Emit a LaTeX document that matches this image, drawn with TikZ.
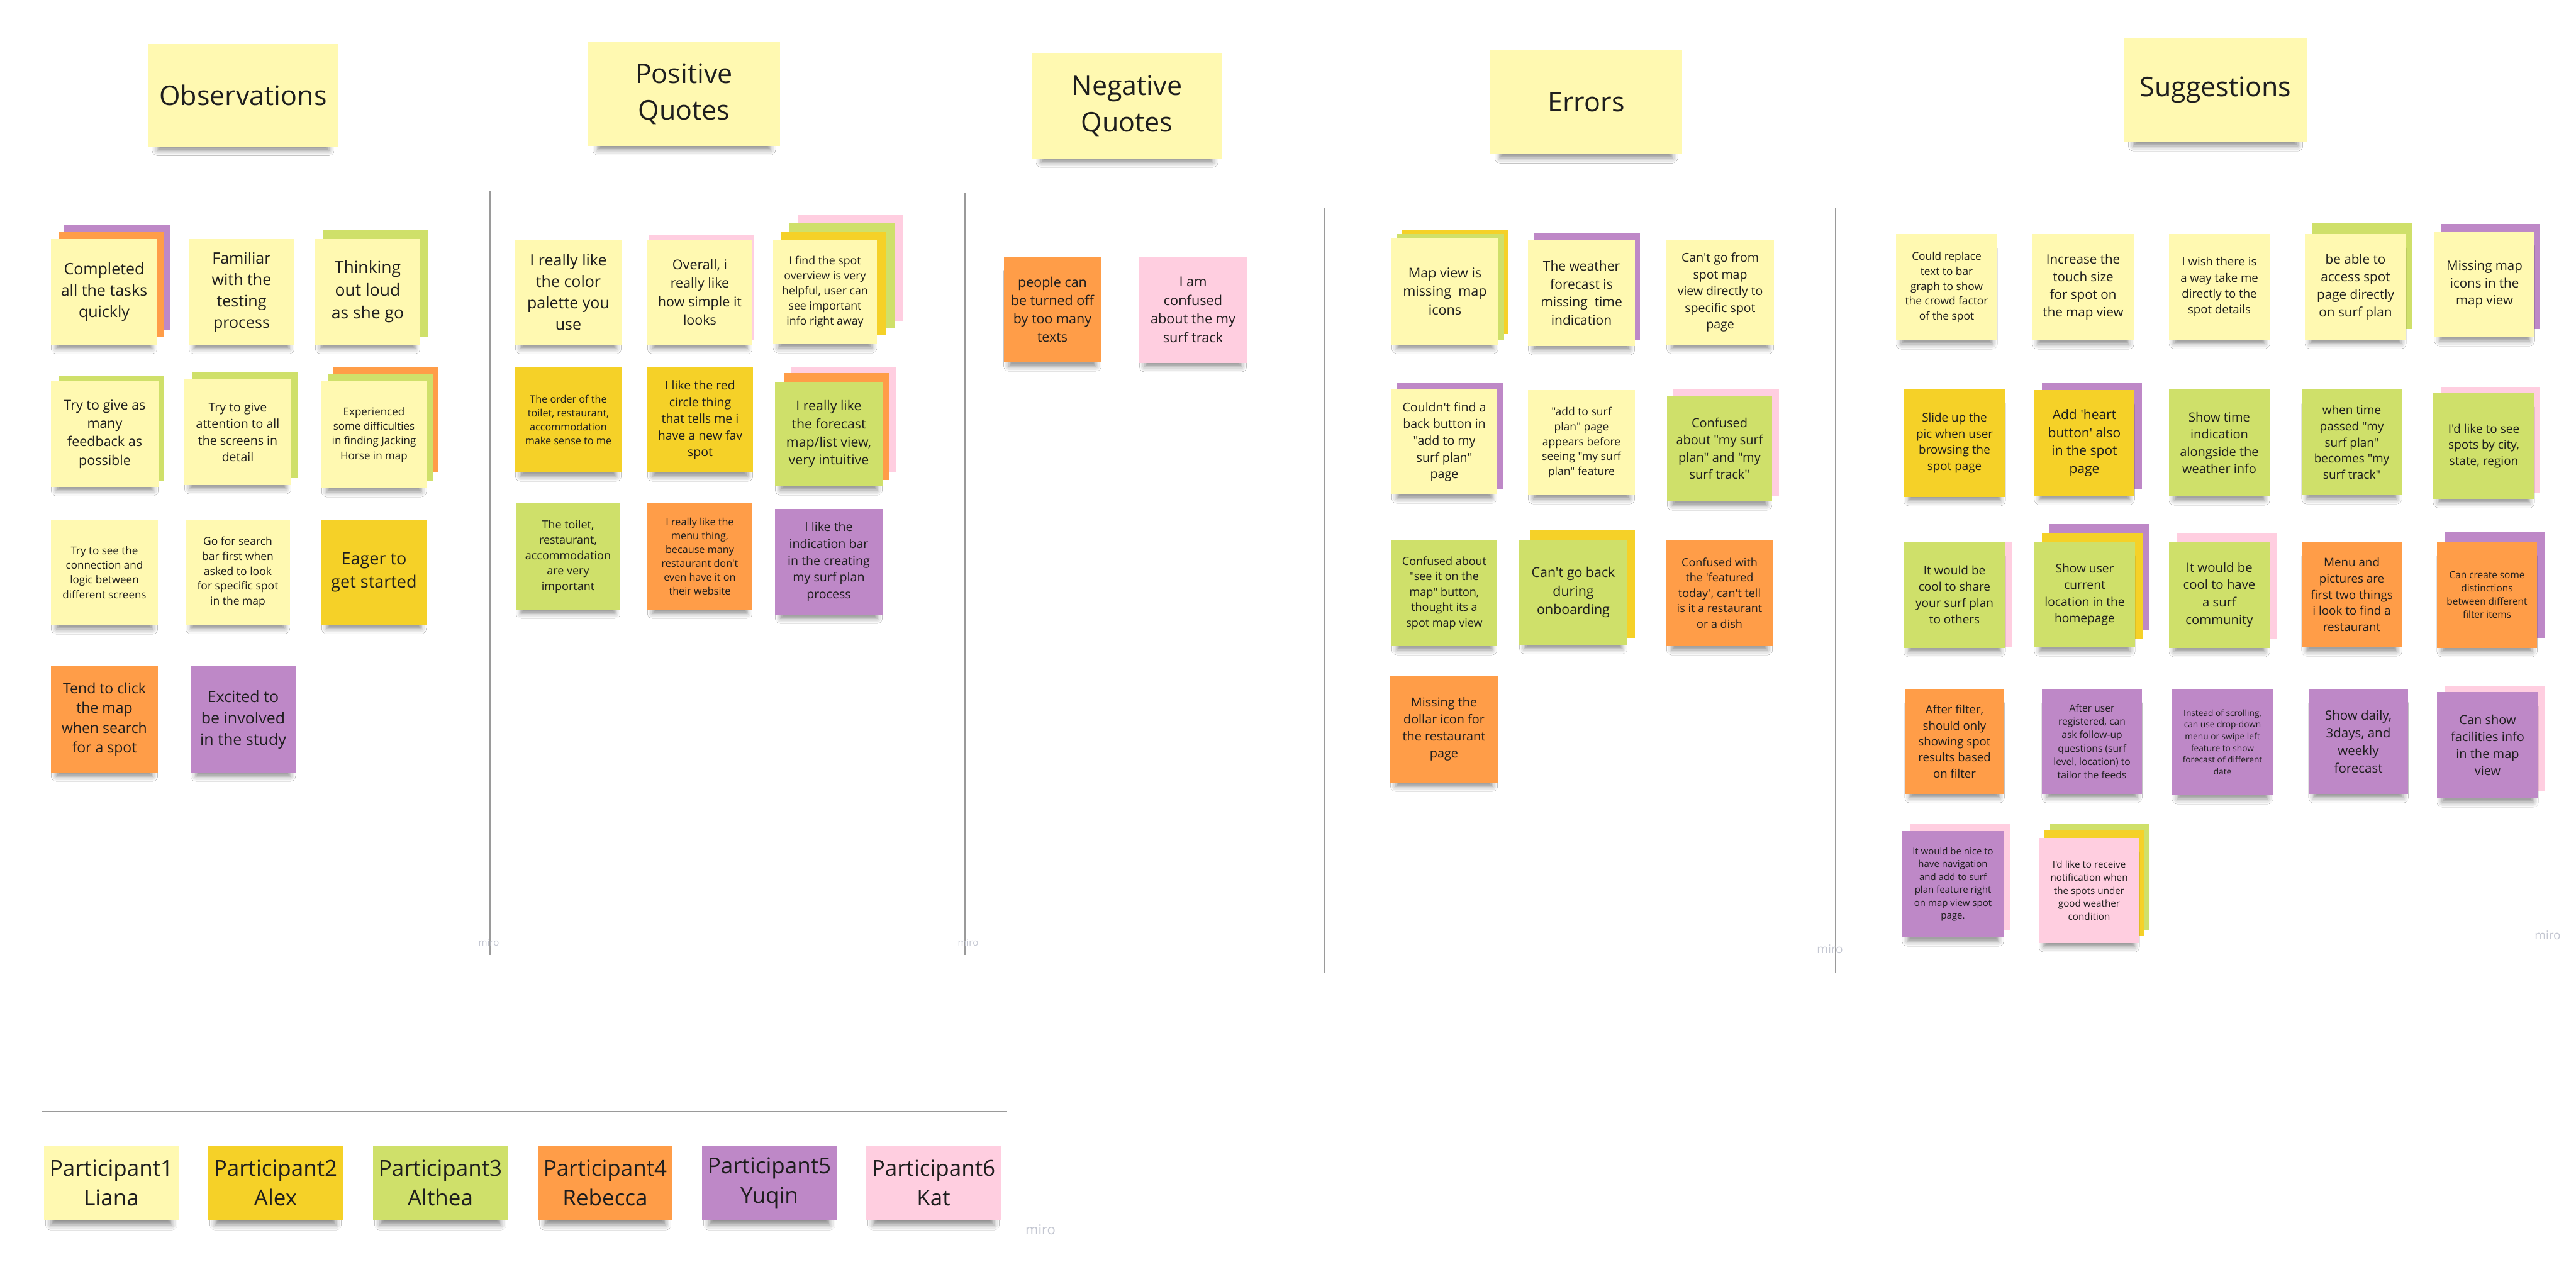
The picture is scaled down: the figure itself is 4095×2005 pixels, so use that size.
\documentclass[tikz,border=0pt]{standalone}
\usepackage{fontspec}
\setmainfont{Open Sans}[Ligatures=TeXOff]
\usetikzlibrary{shadows.blur}
\definecolor{ly}{HTML}{FFF9B1}
\definecolor{yl}{HTML}{F5D128}
\definecolor{gr}{HTML}{CFE06A}
\definecolor{og}{HTML}{FF9D48}
\definecolor{vi}{HTML}{BE88C7}
\definecolor{pk}{HTML}{FFCEE0}
\definecolor{ink}{HTML}{1E1E1E}
\definecolor{sepc}{HTML}{9A9A9A}
\definecolor{mirocol}{HTML}{C3C6D1}
\newcommand\nfs[1]{\pgfmathsetlengthmacro\nfsl{1.36*#1}\fontsize{#1}{\nfsl}\selectfont}
% name, x1, y1, x2, y2, colour, font size, text
\newcommand\snote[8]{\node[note, fill=#6, font=\nfs{#7}, minimum width={#4-#2}, minimum height={#5-#3}] (#1) at ({(#2+#4)/2},{(#3+#5)/2}) {#8};}
% x1, y1, x2, y2, colour
\newcommand\sback[5]{\fill[#5] (#1,#2) rectangle (#3,#4);}
\tikzset{
  note/.style={draw=none, inner sep=2pt, align=center, text=ink,
    blur shadow={shadow xshift=0pt, shadow yshift=-16pt, shadow scale=0.9, shadow blur radius=9pt, shadow opacity=45}},
  legend/.style={note, font=\fontsize{35}{47}\selectfont, minimum width=214, minimum height=117},
  sepline/.style={draw=sepc, line width=2.5pt},
  mirotag/.style={text=mirocol, inner sep=0pt}
}
\begin{document}
\begin{tikzpicture}[x=1pt, y=-1pt]
\useasboundingbox[fill=white] (0,0) rectangle (4095,2005);

% separators
\draw[sepline] (779,303) -- (779,1518);
\draw[sepline] (1534,306) -- (1534,1518);
\draw[sepline] (2106,330) -- (2106,1547);
\draw[sepline] (2918,330) -- (2918,1547);
\draw[sepline] (67,1767) -- (1601,1767);

% headers
\snote{h1}{235}{70}{538}{233}{ly}{43}{Observations}
\snote{h2}{935}{67}{1240}{232}{ly}{43}{Positive\\Quotes}
\snote{h3}{1640}{85}{1943}{252}{ly}{43}{Negative\\Quotes}
\snote{h4}{2369}{80}{2674}{245}{ly}{43}{Errors}
\snote{h5}{3377}{60}{3667}{226}{ly}{43}{Suggestions}

% Observations
\sback{102}{358}{270}{525}{vi}\sback{94}{368}{261}{535}{og}
\snote{o1}{81}{380}{250}{548}{ly}{25}{Completed\\all the tasks\\quickly}
\snote{o2}{300}{380}{468}{548}{ly}{25}{Familiar\\with the\\testing\\process}
\sback{514}{366}{680}{535}{gr}
\snote{o3}{501}{380}{668}{548}{ly}{26.5}{Thinking\\out loud\\as she go}
\sback{93}{597}{261}{764}{gr}
\snote{o4}{81}{606}{252}{774}{ly}{21.5}{Try to give as\\many\\feedback as\\possible}
\sback{306}{591}{473}{760}{gr}
\snote{o5}{293}{603}{463}{771}{ly}{19.5}{Try to give\\attention to all\\the screens in\\detail}
\sback{529}{584}{697}{751}{og}\sback{522}{595}{688}{764}{gr}
\snote{o6}{511}{606}{678}{776}{ly}{17}{Experienced\\some difficulties\\in finding Jacking\\Horse in map}
\snote{o7}{81}{826}{251}{994}{ly}{17}{Try to see the\\connection and\\logic between\\different screens}
\snote{o8}{295}{826}{461}{993}{ly}{17.5}{Go for search\\bar first when\\asked to look\\for specific spot\\in the map}
\snote{o9}{511}{826}{678}{993}{yl}{27}{Eager to\\get started}
\snote{o10}{81}{1059}{251}{1228}{og}{23}{Tend to click\\the map\\when search\\for a spot}
\snote{o11}{303}{1059}{470}{1228}{vi}{25}{Excited to\\be involved\\in the study}

% Positive quotes
\snote{p1}{819}{381}{988}{548}{ly}{25}{I really like\\the color\\palette you\\use}
\sback{1031}{374}{1198}{541}{pk}
\snote{p2}{1029}{381}{1196}{548}{ly}{21.5}{Overall, i\\really like\\how simple it\\looks}
\sback{1269}{341}{1435}{510}{pk}\sback{1254}{354}{1423}{522}{gr}\sback{1242}{368}{1409}{533}{yl}
\snote{p3}{1229}{381}{1394}{547}{ly}{17.7}{I find the spot\\overview is very\\helpful, user can\\see important\\info right away}
\snote{p4}{819}{584}{988}{751}{yl}{16.2}{The order of the\\toilet, restaurant,\\accommodation\\make sense to me}
\snote{p5}{1029}{584}{1197}{751}{yl}{19.5}{I like the red\\circle thing\\that tells me i\\have a new fav\\spot}
\sback{1257}{584}{1425}{751}{pk}\sback{1246}{593}{1413}{763}{og}
\snote{p6}{1232}{607}{1403}{773}{gr}{21.3}{I really like\\the forecast\\map/list view,\\very intuitive}
\snote{p7}{820}{800}{986}{969}{gr}{18}{The toilet,\\restaurant,\\accommodation\\are very\\important}
\snote{p8}{1029}{800}{1196}{969}{og}{16.2}{I really like the\\menu thing,\\because many\\restaurant don't\\even have it on\\their website}
\snote{p9}{1232}{809}{1403}{977}{vi}{19.6}{I like the\\indication bar\\in the creating\\my surf plan\\process}

% Negative quotes
\snote{n1}{1596}{408}{1750}{576}{og}{21.5}{people can\\be turned off\\by too many\\texts}
\snote{n2}{1811}{408}{1982}{577}{pk}{21.7}{I am\\confused\\about the my\\surf track}

% Errors
\sback{2228}{365}{2398}{531}{yl}\sback{2221}{372}{2391}{540}{gr}
\snote{e1}{2212}{378}{2382}{548}{ly}{21.6}{Map view is\\missing\ \ map\\icons}
\sback{2439}{370}{2607}{540}{vi}
\snote{e2}{2429}{381}{2599}{550}{ly}{21}{The weather\\forecast is\\missing\ \ time\\indication}
\snote{e3}{2649}{381}{2820}{548}{ly}{19.5}{Can't go from\\spot map\\view directly to\\specific spot\\page}
\sback{2220}{609}{2390}{777}{vi}
\snote{e4}{2212}{619}{2380}{786}{ly}{19.6}{Couldn't find a\\back button in\\"add to my\\surf plan"\\page}
\snote{e5}{2429}{620}{2599}{787}{ly}{17.5}{"add to surf\\plan" page\\appears before\\seeing "my surf\\plan" feature}
\sback{2660}{619}{2828}{789}{pk}
\snote{e6}{2650}{629}{2817}{797}{gr}{20}{Confused\\about "my surf\\plan" and "my\\surf track"}
\snote{e7}{2212}{858}{2380}{1027}{gr}{18}{Confused about\\"see it on the\\map" button,\\thought its a\\spot map view}
\sback{2432}{843}{2599}{1014}{yl}
\snote{e8}{2415}{858}{2587}{1025}{gr}{21.4}{Can't go back\\during\\onboarding}
\snote{e9}{2649}{858}{2818}{1027}{og}{18}{Confused with\\the 'featured\\today', can't tell\\is it a restaurant\\or a dish}
\snote{e10}{2210}{1074}{2381}{1244}{og}{19.8}{Missing the\\dollar icon for\\the restaurant\\page}

% Suggestions
\snote{s1}{3014}{372}{3175}{541}{ly}{17.3}{Could replace\\text to bar\\graph to show\\the crowd factor\\of the spot}
\snote{s2}{3231}{372}{3392}{541}{ly}{20.6}{Increase the\\touch size\\for spot on\\the map view}
\snote{s3}{3448}{372}{3608}{540}{ly}{18.6}{I wish there is\\a way take me\\directly to the\\spot details}
\sback{3675}{355}{3834}{523}{gr}
\snote{s4}{3664}{372}{3825}{540}{ly}{20.7}{be able to\\access spot\\page directly\\on surf plan}
\sback{3880}{356}{4038}{523}{vi}
\snote{s5}{3870}{368}{4029}{536}{ly}{20.5}{Missing map\\icons in the\\map view}
\snote{s6}{3026}{618}{3188}{790}{yl}{18.8}{Slide up the\\pic when user\\browsing the\\spot page}
\sback{3246}{609}{3405}{777}{vi}
\snote{s7}{3234}{620}{3393}{788}{yl}{21}{Add 'heart\\button' also\\in the spot\\page}
\snote{s8}{3448}{619}{3608}{789}{gr}{20}{Show time\\indication\\alongside the\\weather info}
\snote{s9}{3659}{619}{3818}{787}{gr}{19}{when time\\passed "my\\surf plan"\\becomes "my\\surf track"}
\sback{3880}{615}{4038}{783}{pk}
\snote{s10}{3868}{625}{4029}{793}{gr}{19}{I'd like to see\\spots by city,\\state, region}
\sback{3038}{862}{3198}{1029}{pk}
\snote{s11}{3026}{861}{3188}{1030}{gr}{19}{It would be\\cool to share\\your surf plan\\to others}
\sback{3257}{833}{3417}{1001}{vi}\sback{3246}{848}{3407}{1016}{yl}
\snote{s12}{3234}{861}{3394}{1029}{gr}{19.2}{Show user\\current\\location in the\\homepage}
\sback{3460}{848}{3619}{1016}{pk}
\snote{s13}{3448}{861}{3608}{1030}{gr}{20.3}{It would be\\cool to have\\a surf\\community}
\snote{s14}{3659}{861}{3818}{1029}{og}{18.8}{Menu and\\pictures are\\first two things\\i look to find a\\restaurant}
\sback{3887}{846}{4046}{1014}{vi}
\snote{s15}{3874}{861}{4033}{1030}{og}{15.4}{Can create some\\distinctions\\between different\\filter items}
\snote{s16}{3028}{1095}{3186}{1262}{og}{18.6}{After filter,\\should only\\showing spot\\results based\\on filter}
\snote{s17}{3246}{1095}{3405}{1262}{vi}{15.6}{After user\\registered, can\\ask follow-up\\questions (surf\\level, location) to\\tailor the feeds}
\snote{s18}{3453}{1095}{3613}{1264}{vi}{13.7}{Instead of scrolling,\\can use drop-down\\menu or swipe left\\feature to show\\forecast of different\\date}
\snote{s19}{3670}{1095}{3828}{1262}{vi}{20.5}{Show daily,\\3days, and\\weekly\\forecast}
\sback{3887}{1090}{4045}{1258}{pk}
\snote{s20}{3874}{1100}{4035}{1269}{vi}{20}{Can show\\facilities info\\in the map\\view}
\sback{3037}{1310}{3195}{1478}{pk}
\snote{s21}{3024}{1321}{3185}{1490}{vi}{15}{It would be nice to\\have navigation\\and add to surf\\plan feature right\\on map view spot\\page.}
\sback{3259}{1310}{3417}{1478}{gr}\sback{3250}{1320}{3409}{1488}{yl}
\snote{s22}{3241}{1332}{3401}{1499}{pk}{15.2}{I'd like to receive\\notification when\\the spots under\\good weather\\condition}

% legend
\node[legend, fill=ly] (l1) at (177,1880) {Participant1\\Liana};
\node[legend, fill=yl] (l2) at (438,1880) {Participant2\\Alex};
\node[legend, fill=gr] (l3) at (700,1880) {Participant3\\Althea};
\node[legend, fill=og] (l4) at (962,1880) {Participant4\\Rebecca};
\node[legend, fill=vi] (l5) at (1223,1880) {Participant5\\Yuqin};
\node[legend, fill=pk] (l6) at (1484,1880) {Participant6\\Kat};

% watermarks
\node[mirotag, font=\fontsize{15}{15}\selectfont] (m1) at (777,1498) {miro};
\node[mirotag, font=\fontsize{15}{15}\selectfont] (m2) at (1539,1498) {miro};
\node[mirotag, font=\fontsize{19}{19}\selectfont] (m3) at (2909,1509) {miro};
\node[mirotag, font=\fontsize{19}{19}\selectfont] (m4) at (4050,1487) {miro};
\node[mirotag, font=\fontsize{22}{22}\selectfont] (m5) at (1654,1955) {miro};
\end{tikzpicture}
\end{document}
